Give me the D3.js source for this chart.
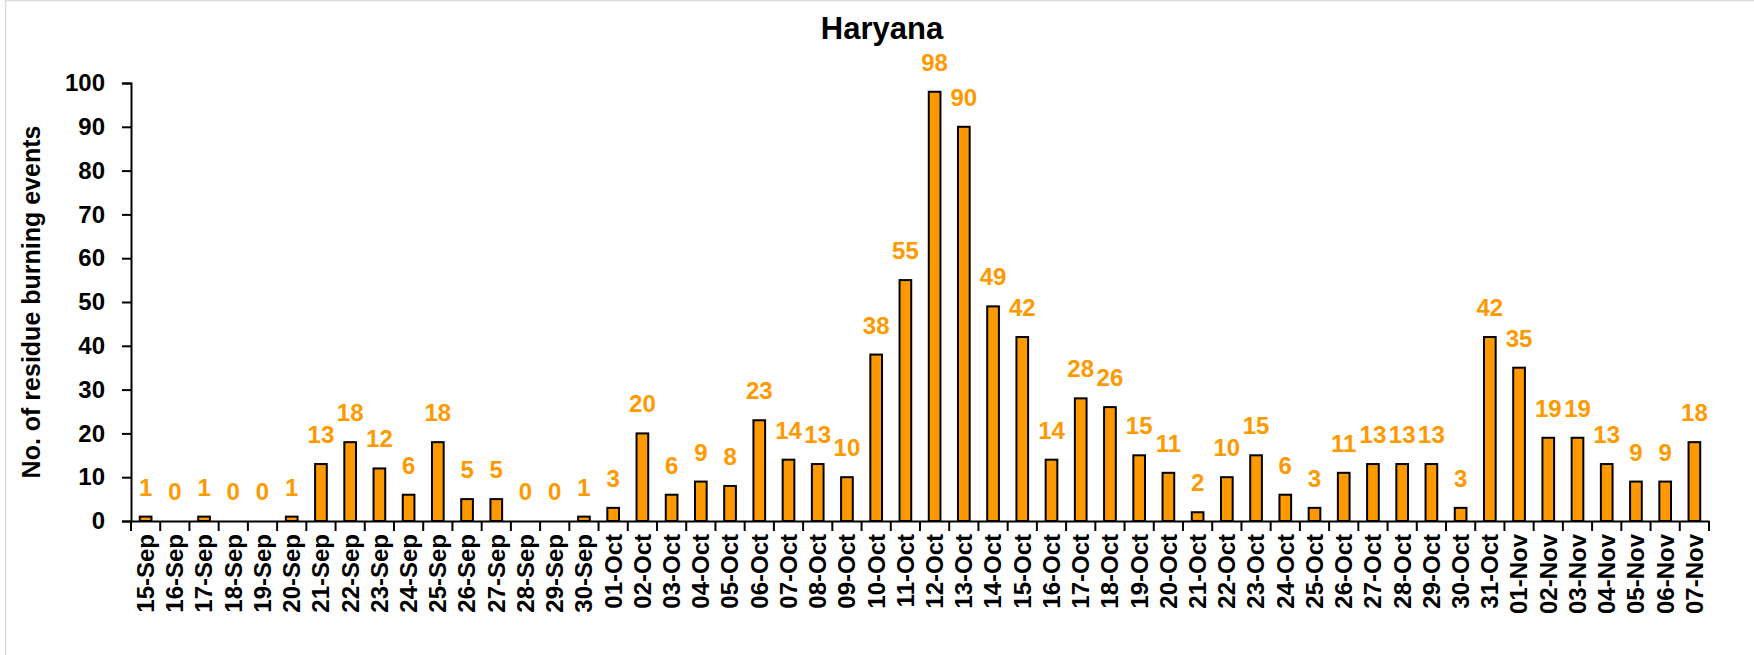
<!DOCTYPE html>
<html>
<head>
<meta charset="utf-8">
<script src="https://cdn.jsdelivr.net/npm/d3@7"></script>
<style>
  body { margin: 0; background: #fff; }
  svg { display: block; font-family: "Liberation Sans", Arial, sans-serif; }
</style>
</head>
<body>
<div id="chart"></div>
<script>
// data
const dates = [
  "15-Sep", "16-Sep", "17-Sep", "18-Sep", "19-Sep", "20-Sep", "21-Sep", "22-Sep",
  "23-Sep", "24-Sep", "25-Sep", "26-Sep", "27-Sep", "28-Sep", "29-Sep", "30-Sep",
  "01-Oct", "02-Oct", "03-Oct", "04-Oct", "05-Oct", "06-Oct", "07-Oct", "08-Oct",
  "09-Oct", "10-Oct", "11-Oct", "12-Oct", "13-Oct", "14-Oct", "15-Oct", "16-Oct",
  "17-Oct", "18-Oct", "19-Oct", "20-Oct", "21-Oct", "22-Oct", "23-Oct", "24-Oct",
  "25-Oct", "26-Oct", "27-Oct", "28-Oct", "29-Oct", "30-Oct", "31-Oct",
  "01-Nov", "02-Nov", "03-Nov", "04-Nov", "05-Nov", "06-Nov", "07-Nov"
];
const events = [
  1, 0, 1, 0, 0, 1, 13, 18, 12, 6, 18, 5, 5, 0, 0, 1,
  3, 20, 6, 9, 8, 23, 14, 13, 10, 38, 55, 98, 90, 49, 42, 14,
  28, 26, 15, 11, 2, 10, 15, 6, 3, 11, 13, 13, 13, 3, 42,
  35, 19, 19, 13, 9, 9, 18
];
const yTicks = [0, 10, 20, 30, 40, 50, 60, 70, 80, 90, 100];

const width = 1754, height = 655;
const margin = { top: 83, right: 45, bottom: 134, left: 131 };
const barColor = "#FF9900";

const svg = d3.select("#chart").append("svg")
  .attr("width", width)
  .attr("height", height);

// chart frame (only top and left edge visible in the picture)
svg.append("rect")
  .attr("x", 5.5).attr("y", 0.5)
  .attr("width", width + 10).attr("height", height + 10)
  .attr("fill", "#fff")
  .attr("stroke", "#d9d9d9")
  .attr("stroke-width", 1.5);

const x = d3.scaleBand()
  .domain(dates)
  .range([margin.left, width - margin.right])
  .paddingInner(0.6)
  .paddingOuter(0.3);

const y = d3.scaleLinear()
  .domain([0, 100])
  .range([height - margin.bottom, margin.top]);

// bars
svg.append("g")
  .selectAll("rect")
  .data(events)
  .join("rect")
  .attr("x", (d, i) => x(dates[i]))
  .attr("y", d => y(d))
  .attr("width", x.bandwidth())
  .attr("height", d => y(0) - y(d))
  .attr("fill", barColor)
  .attr("stroke", "#000")
  .attr("stroke-width", 2);

// value labels
svg.append("g")
  .selectAll("text")
  .data(events)
  .join("text")
  .attr("x", (d, i) => x(dates[i]) + x.bandwidth() / 2)
  .attr("y", d => y(d) - 21)
  .attr("text-anchor", "middle")
  .attr("font-size", 24)
  .attr("font-weight", "bold")
  .attr("fill", barColor)
  .text(d => d);

// y axis
const yAxis = svg.append("g")
  .attr("transform", `translate(${margin.left},0)`)
  .call(d3.axisLeft(y).tickValues(yTicks).tickSize(9).tickPadding(17));
yAxis.select(".domain").attr("stroke", "#000").attr("stroke-width", 2);
yAxis.selectAll(".tick line").attr("stroke", "#000").attr("stroke-width", 2);
yAxis.selectAll(".tick text")
  .attr("font-size", 24)
  .attr("font-weight", "bold")
  .attr("font-family", "Liberation Sans, Arial, sans-serif")
  .attr("fill", "#000");

// x axis: labels under each category
const xAxis = svg.append("g")
  .attr("transform", `translate(0,${y(0)})`)
  .call(d3.axisBottom(x).tickSize(0).tickSizeOuter(0));
xAxis.select(".domain").attr("stroke", "#000").attr("stroke-width", 2);
xAxis.selectAll(".tick text")
  .attr("font-size", 24)
  .attr("font-weight", "bold")
  .attr("font-family", "Liberation Sans, Arial, sans-serif")
  .attr("fill", "#000")
  .attr("transform", "rotate(-90)")
  .attr("text-anchor", "end")
  .attr("dy", "0.35em")
  .attr("x", -13)
  .attr("y", 0);

// tick marks sit on the category boundaries (Excel style)
const boundaries = dates.map((d, i) => margin.left + i * x.step())
  .concat([width - margin.right]);
xAxis.append("g")
  .selectAll("line")
  .data(boundaries)
  .join("line")
  .attr("x1", d => d).attr("x2", d => d)
  .attr("y1", 0).attr("y2", 10)
  .attr("stroke", "#000")
  .attr("stroke-width", 2);

// y axis title
svg.append("text")
  .attr("transform", `translate(31,${(y(0) + y(100)) / 2}) rotate(-90)`)
  .attr("text-anchor", "middle")
  .attr("dominant-baseline", "central")
  .attr("font-size", 25)
  .attr("font-weight", "bold")
  .text("No. of residue burning events");

// title
svg.append("text")
  .attr("x", 882)
  .attr("y", 39)
  .attr("text-anchor", "middle")
  .attr("font-size", 31)
  .attr("font-weight", "bold")
  .text("Haryana");
</script>
</body>
</html>
